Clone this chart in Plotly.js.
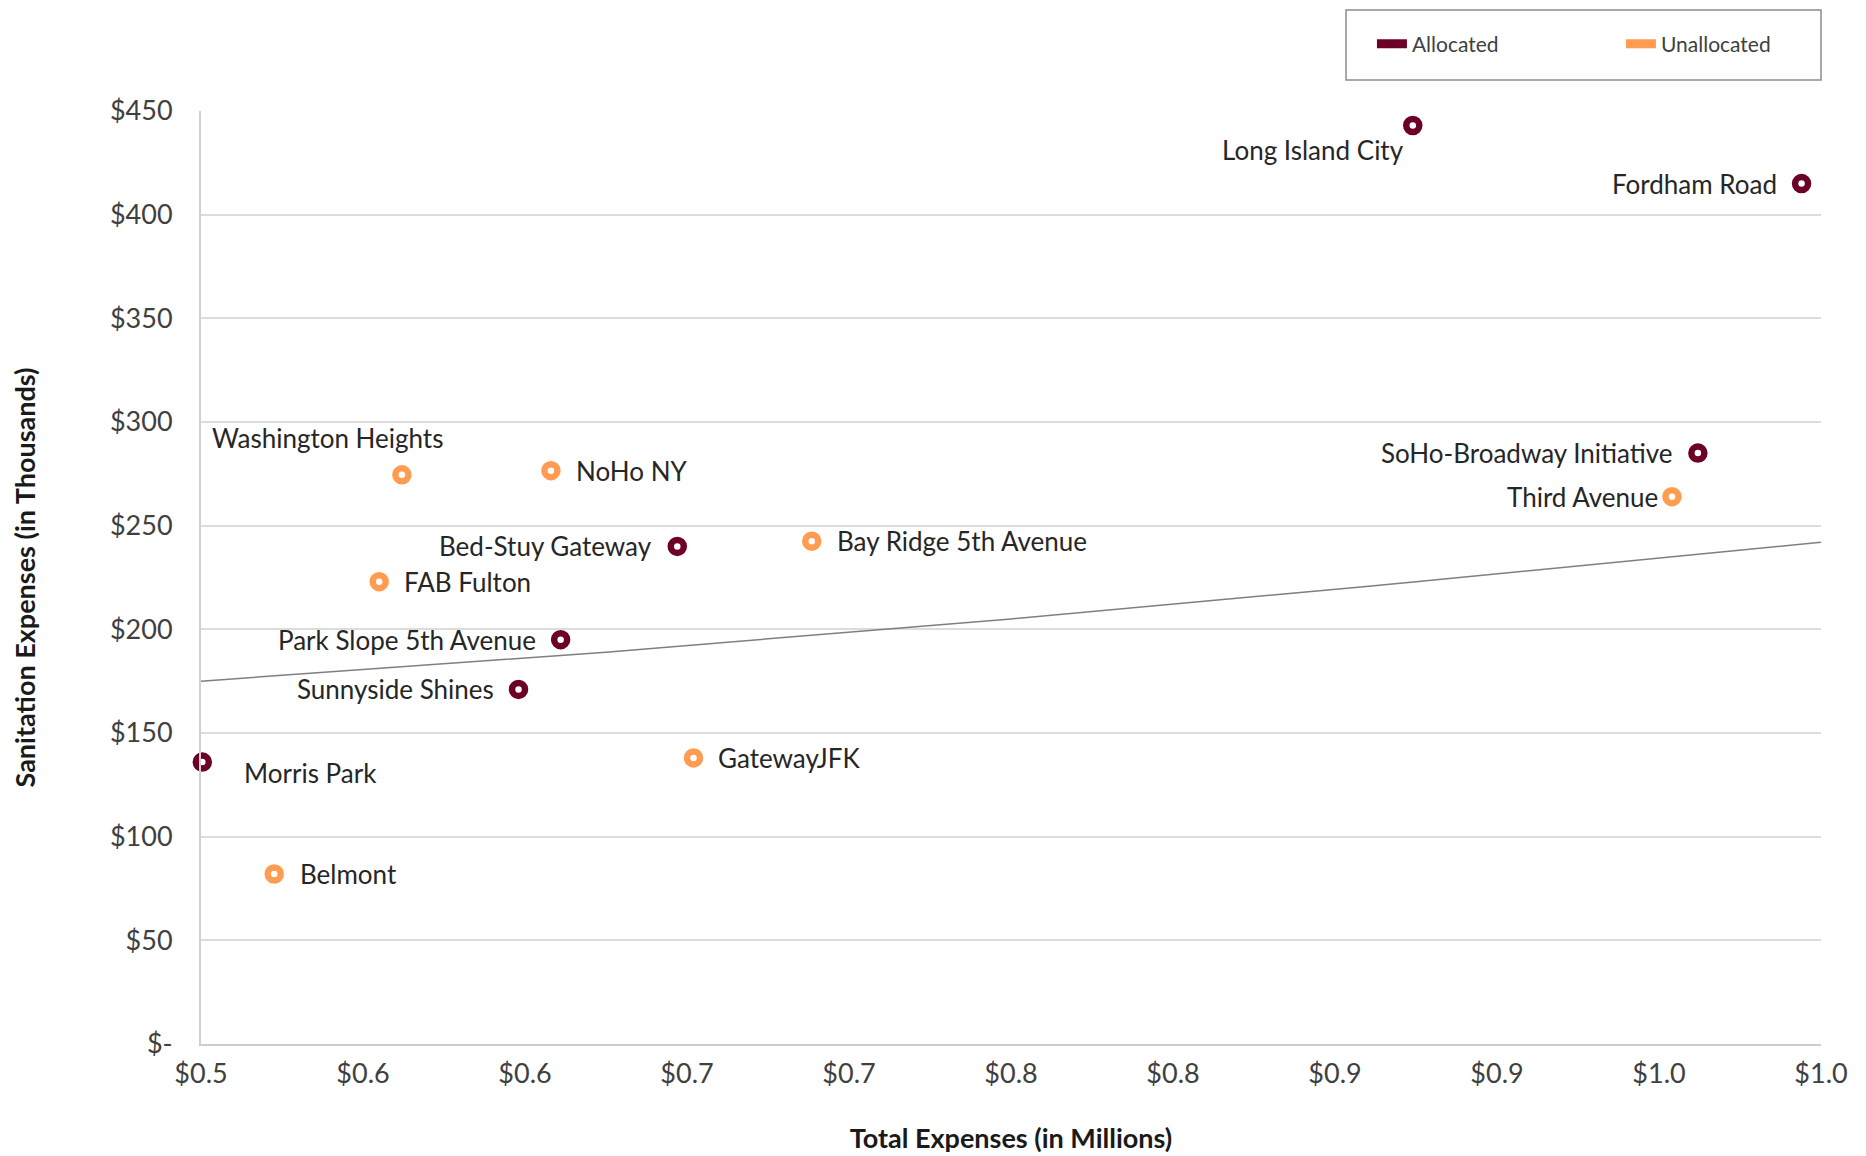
<!DOCTYPE html>
<html>
<head>
<meta charset="utf-8">
<script src="https://cdn.plot.ly/plotly-3.0.1.min.js"></script>
<style>
  html, body { margin: 0; padding: 0; background: #ffffff; }
  #chart { width: 1866px; height: 1156px; }
</style>
</head>
<body>
<div id="chart"></div>
<script>
// ---------- DATA ----------
const allocatedNames = ['Long Island City', 'Fordham Road', 'SoHo-Broadway Initiative', 'Bed-Stuy Gateway', 'Park Slope 5th Avenue', 'Sunnyside Shines', 'Morris Park'];
const allocatedTotal = [0.874, 0.994, 0.962, 0.647, 0.611, 0.598, 0.5004];        // millions
const allocatedSanitation = [443, 415, 285, 240, 195, 171, 136];                     // thousands

const unallocatedNames = ['Third Avenue', 'Washington Heights', 'NoHo NY', 'Bay Ridge 5th Avenue', 'FAB Fulton', 'GatewayJFK', 'Belmont'];
const unallocatedTotal = [0.954, 0.562, 0.608, 0.6885, 0.555, 0.652, 0.5226];
const unallocatedSanitation = [264, 274.5, 276.5, 242.5, 223, 138, 82];

// trendline
const trendX = [0.5, 0.625, 0.75, 0.875, 1.0];
const trendY = [175, 189, 205, 223, 242];

const xTickVals = [0.5, 0.55, 0.6, 0.65, 0.7, 0.75, 0.8, 0.85, 0.9, 0.95, 1.0];
const xTickText = ['$0.5', '$0.6', '$0.6', '$0.7', '$0.7', '$0.8', '$0.8', '$0.9', '$0.9', '$1.0', '$1.0'];
const yTickVals = [0, 50, 100, 150, 200, 250, 300, 350, 400, 450];
const yTickText = ['$-', '$50', '$100', '$150', '$200', '$250', '$300', '$350', '$400', '$450'];

// ---------- STYLE ----------
const FONT = 'Lato, "Open Sans", sans-serif';
const COL_ALLOC = '#6c0027';
const COL_UNALLOC = '#ff9c52';

// label placement: [xanchor, xshift, yshift]
const allocatedLabelPos = [
  ['right', -7, -24], ['right', -23, 0], ['right', -23, 0], ['right', -23, 0],
  ['right', -23, 0], ['right', -23, 0], ['left', 40, -11]
];
const unallocatedLabelPos = [
  ['right', -12, 0], ['right', 43, 37], ['left', 23, 0], ['left', 23, 0],
  ['left', 23, 0], ['left', 23, 0], ['left', 24, 0]
];

function ringMarker(color) {
  return { symbol: 'circle', size: 13, color: '#ffffff', line: { color: color, width: 6.5 } };
}

const traces = [
  {
    type: 'scatter', mode: 'lines', x: trendX, y: trendY,
    line: { color: '#7f7f7f', width: 1.5, shape: 'spline' },
    showlegend: false, hoverinfo: 'skip'
  },
  {
    type: 'scatter', mode: 'markers', name: 'Allocated',
    x: allocatedTotal, y: allocatedSanitation, text: allocatedNames,
    marker: ringMarker(COL_ALLOC), showlegend: false, cliponaxis: false
  },
  {
    type: 'scatter', mode: 'markers', name: 'Unallocated',
    x: unallocatedTotal, y: unallocatedSanitation, text: unallocatedNames,
    marker: ringMarker(COL_UNALLOC), showlegend: false, cliponaxis: false
  },
  // legend entries
  { type: 'scatter', mode: 'lines', name: 'Allocated', x: [null], y: [null],
    line: { color: COL_ALLOC, width: 9 }, showlegend: true, legend: 'legend' },
  { type: 'scatter', mode: 'lines', name: 'Unallocated', x: [null], y: [null],
    line: { color: COL_UNALLOC, width: 9 }, showlegend: true, legend: 'legend2' }
];

const annotations = [];
function addLabels(names, xs, ys, pos) {
  names.forEach((n, i) => {
    annotations.push({
      x: xs[i], y: ys[i], xref: 'x', yref: 'y', text: n, showarrow: false,
      xanchor: pos[i][0], yanchor: 'middle', xshift: pos[i][1], yshift: pos[i][2],
      font: { family: FONT, size: 26, color: '#262626' }
    });
  });
}
addLabels(allocatedNames, allocatedTotal, allocatedSanitation, allocatedLabelPos);
addLabels(unallocatedNames, unallocatedTotal, unallocatedSanitation, unallocatedLabelPos);

const legendStyle = (x) => ({
  orientation: 'h', x: x, xanchor: 'left', y: 1.0718, yanchor: 'middle',
  bgcolor: 'rgba(0,0,0,0)', borderwidth: 0,
  font: { family: FONT, size: 21, color: '#404040' }
});

const layout = {
  width: 1866, height: 1156,
  margin: { l: 201, r: 45, t: 111, b: 112 },
  paper_bgcolor: '#ffffff', plot_bgcolor: '#ffffff',
  font: { family: FONT, color: '#404040' },
  showlegend: true,
  legend: legendStyle(0.7228),
  legend2: legendStyle(0.8765),
  shapes: [{
    type: 'rect', xref: 'paper', yref: 'paper',
    x0: 0.7068, x1: 1.0, y0: 1.0332, y1: 1.1083,
    line: { color: '#8c8c8c', width: 1.5 }, fillcolor: 'rgba(0,0,0,0)'
  }],
  xaxis: {
    range: [0.5, 1.0], tickvals: xTickVals, ticktext: xTickText,
    showgrid: false, zeroline: false,
    showline: true, linecolor: '#cccccc', linewidth: 2,
    ticks: '', ticklabelstandoff: 5,
    tickfont: { family: FONT, size: 27, color: '#404040' },
    title: { text: 'Total Expenses (in Millions)', standoff: 41,
             font: { family: FONT, size: 27, color: '#1a1a1a', weight: 'bold' } }
  },
  yaxis: {
    range: [0, 450], tickvals: yTickVals, ticktext: yTickText,
    showgrid: true, gridcolor: '#dcdcdc', gridwidth: 2, zeroline: false,
    showline: true, linecolor: '#d0d0d0', linewidth: 2,
    ticks: '', ticklabelstandoff: 21,
    tickfont: { family: FONT, size: 27, color: '#404040' },
    title: { text: 'Sanitation Expenses (in Thousands)', standoff: 67,
             font: { family: FONT, size: 27, color: '#1a1a1a', weight: 'bold' } }
  },
  annotations: annotations
};

Plotly.newPlot('chart', traces, layout, { staticPlot: true, displayModeBar: false });
</script>
</body>
</html>
